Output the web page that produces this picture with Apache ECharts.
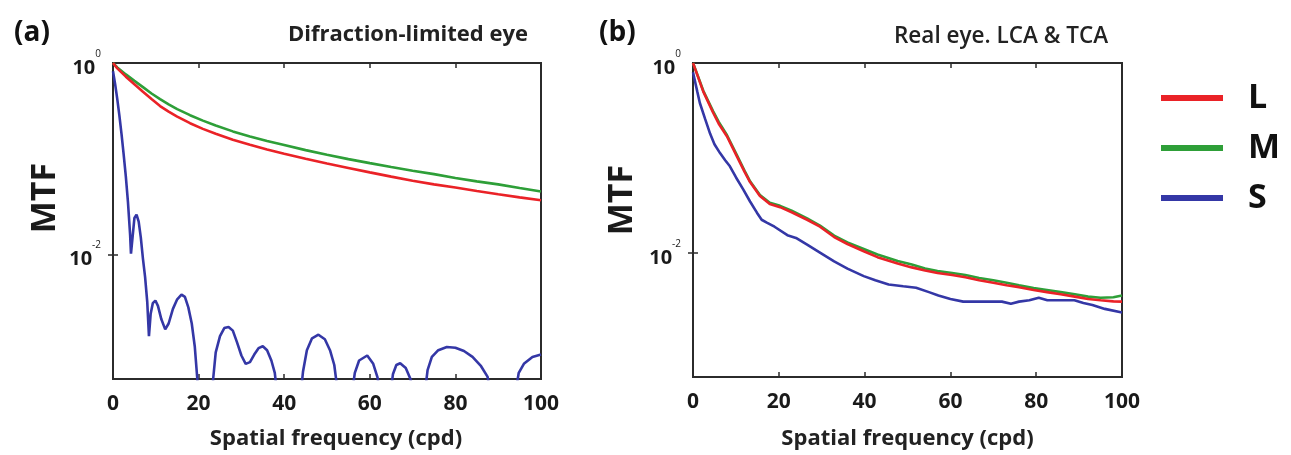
<!DOCTYPE html>
<html>
<head>
<meta charset="utf-8">
<script src="https://cdn.jsdelivr.net/npm/echarts@6/dist/echarts.min.js"></script>
<style>
  html, body { margin: 0; padding: 0; background: #fff; }
  #chart { width: 1291px; height: 455px; }
</style>
</head>
<body>
<div id="chart"></div>
<script>
// series names and colours
var coneNames = ['L', 'M', 'S'];
var coneColors = { L: '#ea2227', M: '#2e9f38', S: '#3437a6' };

// x tick labels
var freqTicks = [0, 20, 40, 60, 80, 100];
var mtfLabels = [0.01, 1];

// (a) diffraction-limited eye  [frequency, MTF]
var diffL = [[0, 1.0], [1, 0.88], [3, 0.72], [5, 0.6], [7, 0.5], [9, 0.42], [11, 0.355], [13, 0.31],
    [15, 0.275], [18, 0.235], [21, 0.205], [24, 0.182], [28, 0.158], [32, 0.14], [36, 0.125],
    [40, 0.113], [45, 0.1], [50, 0.089], [55, 0.08], [60, 0.072], [65, 0.065], [70, 0.059],
    [75, 0.054], [80, 0.05], [85, 0.046], [90, 0.0425], [95, 0.0395], [100, 0.0368]];
var diffM = [[0, 1.0], [1, 0.9], [3, 0.76], [5, 0.65], [7, 0.56], [9, 0.48], [11, 0.42], [13, 0.37],
    [15, 0.33], [18, 0.285], [21, 0.25], [24, 0.222], [28, 0.193], [32, 0.171], [36, 0.153],
    [40, 0.139], [45, 0.123], [50, 0.11], [55, 0.099], [60, 0.09], [65, 0.082], [70, 0.075],
    [75, 0.069], [80, 0.063], [85, 0.058], [90, 0.054], [95, 0.0495], [100, 0.0455]];
// null = the curve drops out below the axis
var diffS = [[0, 0.82], [0.5, 0.6], [1, 0.42], [1.5, 0.28], [2, 0.18], [2.5, 0.11], [3, 0.065],
    [3.5, 0.035], [4, 0.016], [4.2, 0.0102], [4.5, 0.014], [5, 0.024], [5.5, 0.026], [6, 0.022],
    [6.5, 0.015], [7, 0.009], [7.5, 0.0058], [8, 0.0032], [8.4, 0.0014], [8.8, 0.0024], [9.3, 0.0031],
    [9.9, 0.0033], [10.5, 0.0029], [11.3, 0.0021], [12.2, 0.00165], [13, 0.0019], [14, 0.0027],
    [15, 0.0034], [16, 0.0038], [16.8, 0.0036], [17.6, 0.0028], [18.4, 0.0019], [19.1, 0.0011],
    [19.7, 0.0005], [19.9, 0.0003], null,
    [23.2, 0.0003], [23.4, 0.0005], [24, 0.00095], [25, 0.0014], [26, 0.0017], [27, 0.00175],
    [28, 0.0016], [29, 0.0012], [30, 0.00088], [31, 0.00072], [32, 0.00075], [33, 0.0009],
    [34, 0.00105], [35, 0.0011], [36, 0.001], [37, 0.00078], [37.8, 0.00058], [38.2, 0.0004], null,
    [44, 0.0004], [44.4, 0.0006], [45.3, 0.001], [46.5, 0.00133], [48, 0.00145], [49.5, 0.0013],
    [50.7, 0.001], [51.7, 0.0007], [52.4, 0.0004], null,
    [56, 0.0004], [56.5, 0.00058], [57.5, 0.00078], [59.4, 0.00088], [60.8, 0.00072],
    [61.8, 0.00052], [62.2, 0.0004], null,
    [65, 0.0004], [65.4, 0.00056], [66.2, 0.0007], [67.1, 0.00073], [68.4, 0.00065],
    [69.5, 0.0005], [69.9, 0.0004], null,
    [73, 0.0004], [73.5, 0.00062], [74.5, 0.00085], [76, 0.001], [78, 0.00108], [80, 0.00106],
    [82, 0.00098], [84, 0.00085], [86, 0.00068], [87.5, 0.00053], [88, 0.0004], null,
    [94.2, 0.0004], [94.8, 0.00058], [96, 0.00072], [98, 0.00085], [100, 0.0009]];

// (b) real eye, LCA & TCA
var realL = [[0, 1.0], [1, 0.75], [2.4, 0.5], [4.7, 0.3], [6, 0.23], [7.9, 0.17], [10.2, 0.105],
    [12, 0.072], [13.3, 0.056], [15.6, 0.04], [17.9, 0.033], [20.3, 0.0305], [23, 0.027],
    [26.6, 0.0225], [29.6, 0.019], [32.9, 0.0148], [36, 0.0125], [39.8, 0.0105], [43, 0.0091],
    [47.7, 0.0078], [51, 0.0071], [54.1, 0.0066], [57, 0.0062], [60.4, 0.0059], [63.5, 0.0056],
    [66.7, 0.0052], [70, 0.0049], [73.1, 0.0046], [76, 0.0044], [79.4, 0.0041], [82.5, 0.0039],
    [85.7, 0.0037], [89, 0.0035], [92.1, 0.0033], [95, 0.0032], [98, 0.00312], [100, 0.0031]];
var realM = [[0, 1.0], [1, 0.76], [2.4, 0.51], [4.7, 0.31], [6, 0.24], [7.9, 0.175], [10.2, 0.108],
    [12, 0.074], [13.3, 0.057], [15.6, 0.041], [17.9, 0.034], [20.3, 0.0315], [23, 0.028],
    [26.6, 0.0232], [29.6, 0.0195], [32.9, 0.0153], [36, 0.013], [39.8, 0.0111], [43, 0.0097],
    [47.7, 0.0083], [51, 0.0076], [54.1, 0.0069], [57, 0.0065], [60.4, 0.0062], [63.5, 0.0059],
    [66.7, 0.0055], [70, 0.0052], [73.1, 0.0049], [76, 0.0046], [79.4, 0.0043], [82.5, 0.0041],
    [85.7, 0.0039], [89, 0.0037], [92.1, 0.0035], [95, 0.0034], [98, 0.00345], [100, 0.0036]];
var realS = [[0, 0.8], [1, 0.5], [1.6, 0.38], [2.8, 0.26], [4, 0.18], [5, 0.14], [6.3, 0.113],
    [7.5, 0.095], [8.6, 0.082], [10, 0.063], [11.7, 0.047], [13.3, 0.035], [14.9, 0.0267],
    [16, 0.0225], [17.2, 0.021], [19, 0.019], [22, 0.0155], [24, 0.0145], [26.6, 0.0123],
    [29.5, 0.0102], [32.9, 0.0082], [36, 0.0069], [39.8, 0.00575], [42.5, 0.0052], [45.6, 0.0047],
    [49, 0.0045], [52, 0.00434], [55, 0.0039], [57.2, 0.0036], [60, 0.0033], [63, 0.0031],
    [68.8, 0.0031], [72, 0.0031], [74.1, 0.00295], [76, 0.0031], [78.4, 0.0032], [80.6, 0.0034],
    [82.6, 0.0032], [86, 0.0032], [88.9, 0.0032], [91, 0.003], [93.1, 0.00286], [96, 0.0026],
    [100, 0.00238]];

var FONT = '"Open Sans", sans-serif';
var axisColor = '#2b2b2b';

function toData(arr) {
    return arr.map(function (p) { return p === null ? '-' : p; });
}

function xAxes(gi) {
    var base = {
        type: 'value', gridIndex: gi, min: 0, max: 100, interval: 20,
        axisLine: { show: false },
        splitLine: { show: false },
        axisTick: { inside: true, length: 5, lineStyle: { color: axisColor, width: 1.5 } }
    };
    var bottom = Object.assign({}, base, {
        position: 'bottom',
        name: 'Spatial frequency (cpd)',
        nameLocation: 'middle',
        nameGap: gi === 0 ? 49 : 51,
        nameTextStyle: { fontFamily: FONT, fontWeight: 'bold', fontSize: 22, color: '#222',
            padding: gi === 0 ? [0, 0, 0, 18] : 0 },
        axisLabel: { fontFamily: FONT, fontWeight: 'bold', fontSize: 21, color: '#1a1a1a', margin: 15,
            customValues: freqTicks }
    });
    var top = Object.assign({}, base, { position: 'top', axisLabel: { show: false } });
    return [bottom, top];
}

function yAxes(gi) {
    var base = {
        type: 'log', logBase: 10, gridIndex: gi, min: 0.0005, max: 1,
        axisLine: { show: false },
        splitLine: { show: false },
        minorTick: { show: false },
        axisTick: { inside: true, length: 5, customValues: [0.01],
            lineStyle: { color: axisColor, width: 1.5 } }
    };
    var left = Object.assign({}, base, {
        position: 'left',
        axisLabel: {
            customValues: mtfLabels,
            margin: 12,
            formatter: function (v) {
                return v >= 1 ? '{b|10}{s|0}' : '{b|10}{s|-2}';
            },
            rich: {
                b: { fontFamily: FONT, fontWeight: 'bold', fontSize: 20, lineHeight: 20,
                    color: '#1a1a1a', padding: [10, 0, 0, 0] },
                s: { fontFamily: FONT, fontSize: 10, lineHeight: 10, color: '#1a1a1a',
                    padding: [0, 0, 18, 0] }
            }
        }
    });
    var right = Object.assign({}, base, { position: 'right', axisLabel: { show: false } });
    return [left, right];
}

function lines(gi, L, M, S) {
    var mk = function (name, arr) {
        return {
            name: name, type: 'line', xAxisIndex: gi * 2, yAxisIndex: gi * 2,
            data: toData(arr), showSymbol: false, symbol: 'none', clip: true,
            connectNulls: false,
            lineStyle: { color: coneColors[name], width: 2.6 },
            itemStyle: { color: coneColors[name] }
        };
    };
    // green under red, as in the figure
    return [mk('M', M), mk('L', L), mk('S', S)];
}

var option = {
    backgroundColor: '#fff',
    animation: false,
    title: [
        { text: '(a)', left: 9, top: 14, textStyle: { fontFamily: FONT, fontWeight: 'bold', fontSize: 28, color: '#111' } },
        { text: 'Difraction-limited eye', left: 283, top: 19, textStyle: { fontFamily: FONT, fontWeight: 'bold', fontSize: 22, color: '#222' } },
        { text: '(b)', left: 594, top: 14, textStyle: { fontFamily: FONT, fontWeight: 'bold', fontSize: 28, color: '#111' } },
        { text: 'Real eye. LCA & TCA', left: 889, top: 20, textStyle: { fontFamily: FONT, fontWeight: 600, fontSize: 22.5, color: '#222' } }
    ],
    graphic: [
        { type: 'text', x: 45, y: 198, rotation: Math.PI / 2,
            style: { text: 'MTF', font: 'bold 34px "Open Sans"', fill: '#1a1a1a', align: 'center', verticalAlign: 'middle' } },
        { type: 'text', x: 622, y: 200, rotation: Math.PI / 2,
            style: { text: 'MTF', font: 'bold 34px "Open Sans"', fill: '#1a1a1a', align: 'center', verticalAlign: 'middle' } }
    ],
    legend: {
        data: coneNames,
        orient: 'vertical',
        left: 1156, top: 76,
        icon: 'rect', itemWidth: 62, itemHeight: 6, itemGap: 16,
        textStyle: { fontFamily: FONT, fontWeight: 'bold', fontSize: 34, lineHeight: 34, color: '#111',
            padding: [0, 0, 0, 20] },
        selectedMode: false
    },
    grid: [
        { left: 113, top: 63, width: 428, height: 318, show: true, borderColor: axisColor, borderWidth: 2, backgroundColor: 'transparent' },
        { left: 693, top: 63, width: 429, height: 318, show: true, borderColor: axisColor, borderWidth: 2, backgroundColor: 'transparent' }
    ],
    xAxis: xAxes(0).concat(xAxes(1)),
    yAxis: yAxes(0).concat(yAxes(1)),
    series: lines(0, diffL, diffM, diffS).concat(lines(1, realL, realM, realS))
};

var chart = echarts.init(document.getElementById('chart'));
chart.setOption(option);
</script>
</body>
</html>
